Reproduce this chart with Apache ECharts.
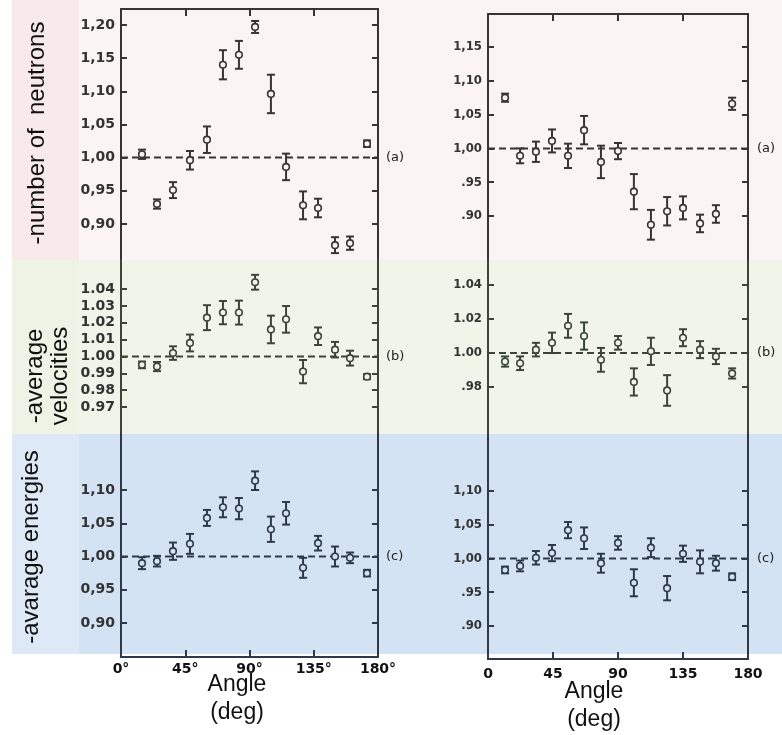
<!DOCTYPE html>
<html><head><meta charset="utf-8">
<script src="https://cdn.jsdelivr.net/npm/echarts@6/dist/echarts.min.js"></script>
<style>html,body{margin:0;padding:0;background:#fff}#c{width:782px;height:735px}</style>
</head><body><div id="c"></div>
<script>
// ---- data ----
const leftAngles  = [14.7, 25.2, 36.4, 48.3, 60.2, 71.4, 82.6, 93.9, 105, 115.6, 127.5, 138, 149.9, 160.4, 172.3];
const rightAngles = [11.8, 22.2, 33.2, 44.3, 55.4, 66.5, 78.2, 90, 101, 112.8, 124, 135, 146.8, 157.8, 169];

const leftN     = [1.005, 0.930, 0.951, 0.996, 1.027, 1.140, 1.155, 1.197, 1.096, 0.986, 0.928, 0.924, 0.868, 0.871, 1.021];
const leftNErr  = [0.007, 0.007, 0.012, 0.014, 0.020, 0.022, 0.021, 0.009, 0.029, 0.020, 0.021, 0.014, 0.012, 0.010, 0.005];
const leftV     = [0.995, 0.994, 1.002, 1.008, 1.023, 1.026, 1.026, 1.044, 1.016, 1.022, 0.991, 1.012, 1.004, 0.999, 0.988];
const leftVErr  = [0.002, 0.0027, 0.004, 0.005, 0.0074, 0.0069, 0.0071, 0.0044, 0.0082, 0.0079, 0.0069, 0.0052, 0.0046, 0.0044, 0.0015];
const leftE     = [0.990, 0.993, 1.008, 1.019, 1.058, 1.074, 1.072, 1.114, 1.041, 1.065, 0.983, 1.020, 1.000, 0.998, 0.975];
const leftEErr  = [0.009, 0.008, 0.013, 0.015, 0.012, 0.015, 0.016, 0.014, 0.019, 0.017, 0.015, 0.011, 0.015, 0.008, 0.005];

const rightN    = [1.075, 0.989, 0.995, 1.011, 0.989, 1.027, 0.980, 0.996, 0.936, 0.887, 0.907, 0.912, 0.889, 0.903, 1.066];
const rightNErr = [0.006, 0.011, 0.015, 0.017, 0.018, 0.021, 0.024, 0.012, 0.026, 0.022, 0.021, 0.017, 0.013, 0.013, 0.009];
const rightV    = [0.995, 0.994, 1.002, 1.006, 1.016, 1.010, 0.996, 1.006, 0.983, 1.001, 0.978, 1.009, 1.002, 0.998, 0.988];
const rightVErr = [0.003, 0.004, 0.004, 0.006, 0.007, 0.008, 0.007, 0.004, 0.008, 0.008, 0.009, 0.005, 0.005, 0.0045, 0.003];
const rightE    = [0.983, 0.989, 1.001, 1.008, 1.042, 1.030, 0.993, 1.023, 0.964, 1.016, 0.956, 1.007, 0.995, 0.993, 0.973];
const rightEErr = [0.005, 0.008, 0.010, 0.012, 0.012, 0.016, 0.014, 0.010, 0.020, 0.014, 0.018, 0.012, 0.017, 0.011, 0.005];

const refValue = 1.00;

const leftNTicks  = [0.90, 0.95, 1.00, 1.05, 1.10, 1.15, 1.20];
const leftNText   = ['0,90', '0,95', '1,00', '1,05', '1,10', '1,15', '1,20'];
const leftVTicks  = [0.97, 0.98, 0.99, 1.00, 1.01, 1.02, 1.03, 1.04];
const leftVText   = ['0.97', '0.98', '0.99', '1.00', '1.01', '1.02', '1.03', '1.04'];
const leftETicks  = [0.90, 0.95, 1.00, 1.05, 1.10];
const leftEText   = ['0,90', '0,95', '1,00', '1,05', '1,10'];
const rightNTicks = [0.90, 0.95, 1.00, 1.05, 1.10, 1.15];
const rightNText  = ['.90', '.95', '1,00', '1,05', '1,10', '1,15'];
const rightVTicks = [0.98, 1.00, 1.02, 1.04];
const rightVText  = ['.98', '1.00', '1.02', '1.04'];
const rightETicks = [0.90, 0.95, 1.00, 1.05, 1.10];
const rightEText  = ['.90', '.95', '1,00', '1,05', '1,10'];

const angleTicks = [0, 45, 90, 135, 180];
const leftAngleText  = ['0°', '45°', '90°', '135°', '180°'];
const rightAngleText = ['0', '45', '90', '135', '180'];

const panelTags = ['(a)', '(b)', '(c)'];
const yTitles = ['-number of  neutrons', '-average\nvelocities', '-avarage energies'];
const xTitle = 'Angle\n(deg)';

// ---- layout ----
const inkA = '#383434', inkB = '#3c4638', inkC = '#2e3a48';
const bgA = '#fbf4f4', bgB = '#f1f5e9', bgC = '#d4e3f3';

const panels = [
  {grid:{left:121, top:9,   width:257, height:251}, y:[0.8456, 1.2241], ang:leftAngles,  v:leftN,  e:leftNErr,  t:leftNTicks,  tt:leftNText,  tag:0, ink:inkA, bg:bgA, top:true,  bottom:false, side:'L'},
  {grid:{left:121, top:260, width:257, height:174}, y:[0.9540, 1.0572], ang:leftAngles,  v:leftV,  e:leftVErr,  t:leftVTicks,  tt:leftVText,  tag:1, ink:inkB, bg:bgB, top:false, bottom:false, side:'L'},
  {grid:{left:121, top:434, width:257, height:223}, y:[0.8489, 1.1842], ang:leftAngles,  v:leftE,  e:leftEErr,  t:leftETicks,  tt:leftEText,  tag:2, ink:inkC, bg:bgC, top:false, bottom:true,  side:'L'},
  {grid:{left:488, top:14,  width:260, height:246}, y:[0.8349, 1.1988], ang:rightAngles, v:rightN, e:rightNErr, t:rightNTicks, tt:rightNText, tag:0, ink:inkA, bg:bgA, top:true,  bottom:false, side:'R'},
  {grid:{left:488, top:260, width:260, height:174}, y:[0.9524, 1.0547], ang:rightAngles, v:rightV, e:rightVErr, t:rightVTicks, tt:rightVText, tag:1, ink:inkB, bg:bgB, top:false, bottom:false, side:'R'},
  {grid:{left:488, top:434, width:260, height:225}, y:[0.8511, 1.1844], ang:rightAngles, v:rightE, e:rightEErr, t:rightETicks, tt:rightEText, tag:2, ink:inkC, bg:bgC, top:false, bottom:true,  side:'R'}
];

function lookup(vals, texts, v) {
  for (let i = 0; i < vals.length; i++) if (Math.abs(vals[i] - v) < 1e-6) return texts[i];
  return '';
}

const grids = [], xAxes = [], yAxes = [], series = [];
panels.forEach((p, i) => {
  grids.push(p.grid);
  const ls = {color: p.ink, width: 2};
  const isL = p.side === 'L';
  xAxes.push({
    gridIndex: i, type: 'value', min: 0, max: 180, interval: 45, position: 'bottom',
    axisLine: {show: p.bottom, onZero: false, lineStyle: ls},
    axisTick: {show: p.bottom, inside: true, length: 7, lineStyle: ls},
    axisLabel: {show: p.bottom, margin: isL ? 5 : 8, color: '#111', fontFamily: 'DejaVu Sans', fontWeight: 'bold', fontSize: 14,
      formatter: v => lookup(angleTicks, isL ? leftAngleText : rightAngleText, v)},
    splitLine: {show: false}
  });
  xAxes.push({
    gridIndex: i, type: 'value', min: 0, max: 180, interval: 45, position: 'top',
    axisLine: {show: p.top, onZero: false, lineStyle: ls},
    axisTick: {show: p.top, inside: true, length: 7, lineStyle: ls},
    axisLabel: {show: false}, splitLine: {show: false}
  });
  const labFont = isL
    ? {fontFamily: 'DejaVu Sans', fontWeight: 'bold', fontSize: 14}
    : {fontFamily: 'DejaVu Sans Condensed', fontWeight: 'bold', fontSize: 13};
  yAxes.push({
    gridIndex: i, type: 'value', min: p.y[0], max: p.y[1], position: 'left',
    axisLine: {show: true, onZero: false, lineStyle: ls},
    axisTick: {show: true, inside: true, length: 6, lineStyle: ls, customValues: p.t},
    axisLabel: Object.assign({show: true, margin: 6, color: '#333', customValues: p.t,
      formatter: v => lookup(p.t, p.tt, v)}, labFont),
    splitLine: {show: false}
  });
  yAxes.push({
    gridIndex: i, type: 'value', min: p.y[0], max: p.y[1], position: 'right',
    axisLine: {show: true, onZero: false, lineStyle: ls},
    axisTick: {show: true, inside: true, length: 6, lineStyle: ls, customValues: p.t},
    axisLabel: {show: false}, splitLine: {show: false}
  });
  series.push({
    type: 'line', xAxisIndex: 2 * i, yAxisIndex: 2 * i, data: [[0, refValue], [180, refValue]],
    symbol: 'none', silent: true, z: 2,
    lineStyle: {type: [7, 4], width: 2, color: p.ink},
    endLabel: {show: true, formatter: panelTags[p.tag], distance: isL ? 8 : 9, color: '#222', fontFamily: 'DejaVu Sans', fontSize: 13}
  });
  const ink = p.ink, bg = p.bg;
  series.push({
    type: 'custom', xAxisIndex: 2 * i, yAxisIndex: 2 * i, z: 3,
    data: p.ang.map((a, k) => [a, p.v[k], p.e[k]]),
    renderItem: (params, api) => {
      const x = api.value(0), y = api.value(1), e = api.value(2);
      const c = api.coord([x, y]), t = api.coord([x, y + e]), b = api.coord([x, y - e]);
      const cap = 4;
      const st = {stroke: ink, lineWidth: 2};
      return {type: 'group', children: [
        {type: 'line', shape: {x1: c[0], y1: t[1], x2: c[0], y2: b[1]}, style: st},
        {type: 'line', shape: {x1: c[0] - cap, y1: t[1], x2: c[0] + cap, y2: t[1]}, style: st},
        {type: 'line', shape: {x1: c[0] - cap, y1: b[1], x2: c[0] + cap, y2: b[1]}, style: st},
        {type: 'circle', shape: {cx: c[0], cy: c[1], r: 3.3}, style: {fill: bg, stroke: ink, lineWidth: 1.6}}
      ]};
    }
  });
});

const graphic = [
  {type: 'rect', shape: {x: 12, y: 0, width: 770, height: 260}, style: {fill: bgA}, z: -10, silent: true},
  {type: 'rect', shape: {x: 12, y: 0, width: 67, height: 260}, style: {fill: '#f8eaea'}, z: -9, silent: true},
  {type: 'rect', shape: {x: 12, y: 260, width: 770, height: 174}, style: {fill: bgB}, z: -10, silent: true},
  {type: 'rect', shape: {x: 12, y: 260, width: 67, height: 174}, style: {fill: '#eef3e5'}, z: -9, silent: true},
  {type: 'rect', shape: {x: 12, y: 434, width: 770, height: 220}, style: {fill: bgC}, z: -10, silent: true},
  {type: 'rect', shape: {x: 12, y: 434, width: 67, height: 220}, style: {fill: '#dde9f6'}, z: -9, silent: true},
  {type: 'text', x: 37, y: 133, rotation: Math.PI / 2, style: {text: yTitles[0], font: '24px "Liberation Sans"', fill: '#111', textAlign: 'center', textVerticalAlign: 'middle'}},
  {type: 'text', x: 48, y: 376, rotation: Math.PI / 2, style: {text: yTitles[1], font: '24px "Liberation Sans"', fill: '#111', textAlign: 'center', textVerticalAlign: 'middle', lineHeight: 25}},
  {type: 'text', x: 31, y: 547, rotation: Math.PI / 2, style: {text: yTitles[2], font: '24px "Liberation Sans"', fill: '#111', textAlign: 'center', textVerticalAlign: 'middle'}},
  {type: 'text', x: 237, y: 699, style: {text: xTitle, font: '23px "Liberation Sans"', fill: '#111', textAlign: 'center', textVerticalAlign: 'middle', lineHeight: 28}},
  {type: 'text', x: 594, y: 706, style: {text: xTitle, font: '23px "Liberation Sans"', fill: '#111', textAlign: 'center', textVerticalAlign: 'middle', lineHeight: 28}}
];

const chart = echarts.init(document.getElementById('c'));
chart.setOption({
  animation: false,
  backgroundColor: '#ffffff',
  grid: grids, xAxis: xAxes, yAxis: yAxes, series: series, graphic: graphic
});
</script>
</body></html>
